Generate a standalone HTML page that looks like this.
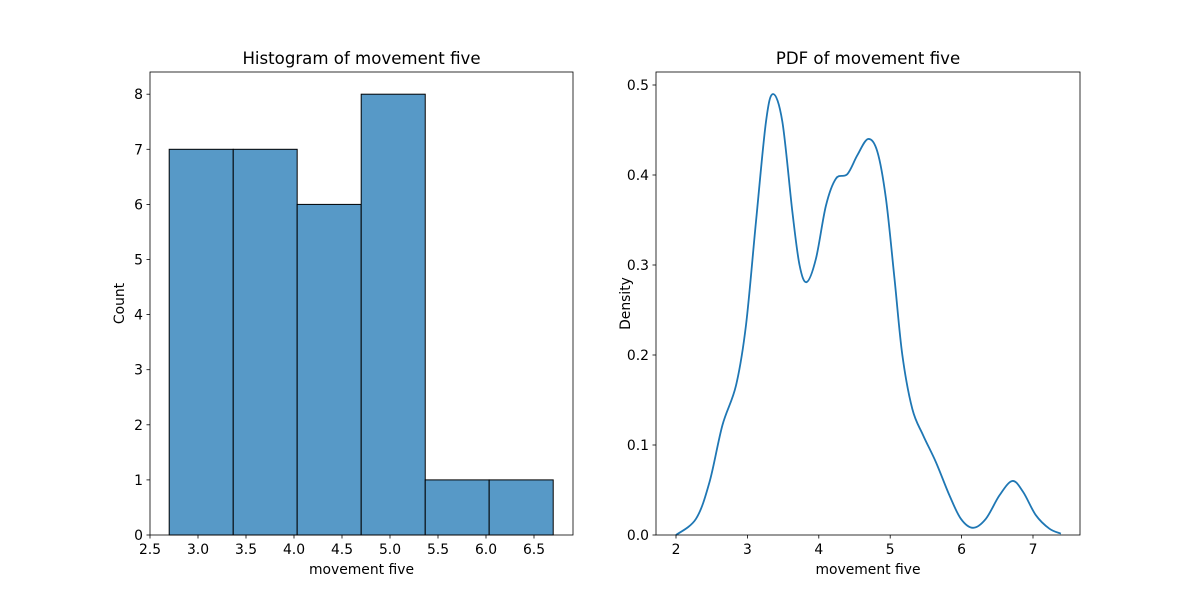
<!DOCTYPE html>
<html><head><meta charset="utf-8"><style>
body{margin:0;background:#fff;}
text{font-family:"DejaVu Sans","Liberation Sans",sans-serif;fill:#000;}
</style></head><body>
<svg id="fig" width="1200" height="600" xmlns="http://www.w3.org/2000/svg">
<rect width="1200" height="600" fill="#fff"/>
<g id="left"></g>
<g id="right"></g>
</svg>
<script>
const histEdges = [2.7, 3.367, 4.033, 4.7, 5.367, 6.033, 6.7];
const histCounts = [7, 7, 6, 8, 1, 1];
const histXTicks = [2.5, 3.0, 3.5, 4.0, 4.5, 5.0, 5.5, 6.0, 6.5];
const histYTicks = [0, 1, 2, 3, 4, 5, 6, 7, 8];
const kdeX = [2.0,2.28,2.47,2.65,2.84,2.98,3.12,3.26,3.36,3.49,3.63,3.73,3.83,3.96,4.10,4.24,4.40,4.54,4.69,4.82,4.94,5.06,5.17,5.31,5.46,5.64,5.83,5.99,6.16,6.34,6.53,6.71,6.86,7.04,7.23,7.39];
const kdeY = [0,0.018,0.059,0.122,0.166,0.233,0.348,0.459,0.490,0.459,0.359,0.300,0.281,0.307,0.366,0.396,0.401,0.422,0.440,0.426,0.374,0.285,0.200,0.140,0.111,0.081,0.044,0.018,0.008,0.018,0.044,0.060,0.048,0.022,0.007,0.0015];
const pdfXTicks = [2, 3, 4, 5, 6, 7];
const pdfYTicks = [0.0, 0.1, 0.2, 0.3, 0.4, 0.5];

const NS="http://www.w3.org/2000/svg";
function mk(parent,tag,attrs,txt){const e=document.createElementNS(NS,tag);for(const k in attrs)e.setAttribute(k,attrs[k]);if(txt!==undefined)e.textContent=txt;parent.appendChild(e);return e;}

function axes(g,box,xs,ys,xt,yt,xfmt,yfmt,title,xl,yl){
  const [L,T,R,B]=box;
  for(const v of xt){const x=xs(v);
    const t=mk(g,'line',{x1:x,x2:x,y1:B,y2:B+3.5,stroke:'#000','stroke-width':0.8});
    
    
    const l=mk(g,'text',{x:x,y:B+19,'font-size':13.9,'text-anchor':'middle'},xfmt(v));
    
    }
  for(const v of yt){const y=ys(v);
    const t=mk(g,'line',{x1:L-3.5,x2:L,y1:y,y2:y,stroke:'#000','stroke-width':0.8});
    
    
    const l=mk(g,'text',{x:L-7,y:y+5,'font-size':13.9,'text-anchor':'end'},yfmt(v));
    
    }
  const f=mk(g,'rect',{x:L,y:T,width:R-L,height:B-T,fill:'none',stroke:'#000','stroke-width':0.8});
  
  
  const ti=mk(g,'text',{x:(L+R)/2,y:T-8,'font-size':16.6,'text-anchor':'middle'},title);
  
  
  const xa=mk(g,'text',{x:(L+R)/2,y:B+39,'font-size':13.9,'text-anchor':'middle'},xl);
  
  
  const ya=mk(g,'text',{x:0,y:0,'font-size':13.9,'text-anchor':'middle',transform:`translate(${L-26},${(T+B)/2}) rotate(-90)`},yl);
  
  
}

// Left histogram
{
  const g=document.getElementById('left');
  const L=150,T=72,R=573,B=535;
  const xs=v=>150+(v-2.5)*96;
  const ys=v=>535-v*55.1;
  for(let i=0;i<histCounts.length;i++){
    const x0=xs(histEdges[i]),x1=xs(histEdges[i+1]);
    const r=mk(g,'rect',{x:x0,y:ys(histCounts[i]),width:x1-x0,height:B-ys(histCounts[i]),fill:'#5799c7',stroke:'#000','stroke-width':1});
    
    
  }
  axes(g,[L,T,R,B],xs,ys,histXTicks,histYTicks,v=>v.toFixed(1),v=>String(v),'Histogram of movement five','movement five','Count');
}
// Right KDE
{
  const g=document.getElementById('right');
  const L=656,T=72,R=1080,B=535;
  const xs=v=>676+(v-2)*71.4;
  const ys=v=>535-v*900;
  const P=kdeX.map((x,i)=>[xs(x),ys(kdeY[i])]);
  let d=`M${P[0][0]},${P[0][1]}`;
  for(let i=0;i<P.length-1;i++){
    const p0=P[Math.max(0,i-1)],p1=P[i],p2=P[i+1],p3=P[Math.min(P.length-1,i+2)];
    const c1=[p1[0]+(p2[0]-p0[0])/6,p1[1]+(p2[1]-p0[1])/6];
    const c2=[p2[0]-(p3[0]-p1[0])/6,p2[1]-(p3[1]-p1[1])/6];
    d+=` C${c1[0]},${c1[1]} ${c2[0]},${c2[1]} ${p2[0]},${p2[1]}`;
  }
  const path=mk(g,'path',{d:d,fill:'none',stroke:'#1f77b4','stroke-width':1.8});
  
  
  axes(g,[L,T,R,B],xs,ys,pdfXTicks,pdfYTicks,v=>String(v),v=>v.toFixed(1),'PDF of movement five','movement five','Density');
}
</script>
</body></html>
